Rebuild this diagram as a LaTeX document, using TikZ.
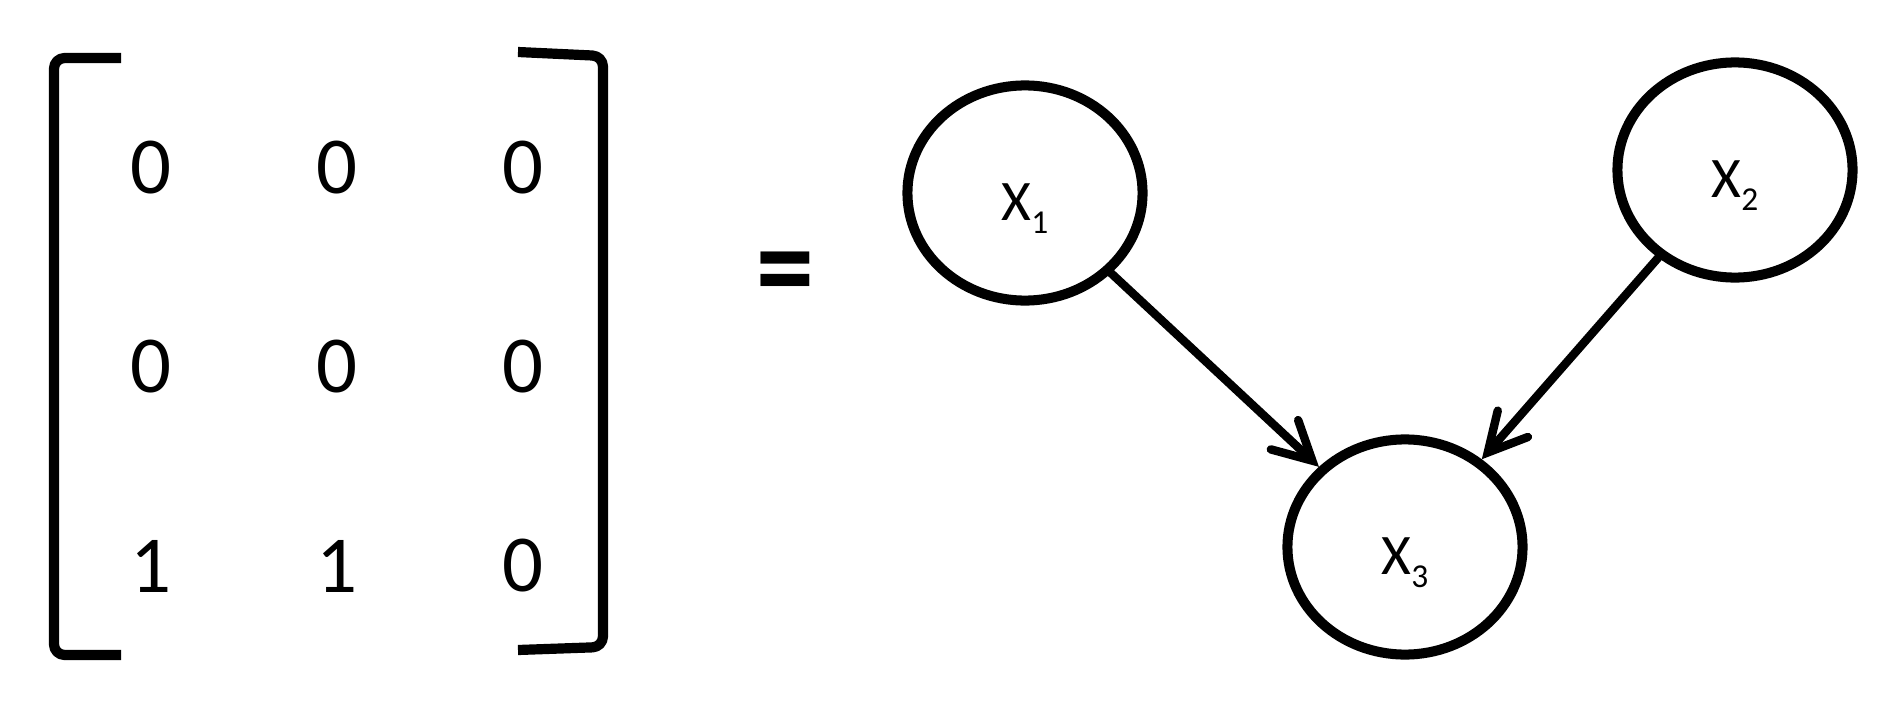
\documentclass[tikz,border=0pt]{standalone}
\usepackage{fontspec}
\setmainfont{Carlito}
\usetikzlibrary{shapes.geometric,arrows.meta}
\begin{document}
\begin{tikzpicture}[x=0.01cm,y=-0.01cm,
  entry/.style={font=\fontsize{23}{27}\selectfont, inner sep=0},
  var/.style={draw, ellipse, line width=2.85pt, minimum width=2.35cm,
    minimum height=2.15cm, inner sep=0, text height=0.54cm, text depth=0cm,
    font=\fontsize{16.3}{19}\selectfont},
  bracket/.style={line width=2.9pt, line cap=butt, line join=round, rounded corners=3pt},
  edge/.style={-{Straight Barb[length=3.8mm,width=4mm,line cap=round]},
    line width=2.4pt, line cap=round},
  eqsign/.style={font=\fontsize{33}{36}\selectfont\bfseries, inner sep=0}]
\newcommand{\sbs}[1]{\raisebox{-0.13cm}{\fontsize{9.5}{11}\selectfont #1}}
\useasboundingbox (0,0) rectangle (1890,703);

% brackets
\draw[bracket] (121,58) -- (54,58) -- (54,655) -- (121,655);
\draw[bracket] (518,52) -- (603,56) -- (603,647) -- (518,650);

% matrix entries
\node[entry] (m11) at (151,168) {0};
\node[entry] (m12) at (337,168) {0};
\node[entry] (m13) at (523,168) {0};
\node[entry] (m21) at (151,367) {0};
\node[entry] (m22) at (337,367) {0};
\node[entry] (m23) at (523,367) {0};
\node[entry] (m31) at (151,566) {1};
\node[entry] (m32) at (337,566) {1};
\node[entry] (m33) at (523,566) {0};

% equals
\node[eqsign] (eq) at (785,282) {\scalebox{1}[1.15]{=}};

% graph
\node[var] (x1) at (1025,193) {X\sbs{1}};
\node[var] (x2) at (1735,170) {X\sbs{2}};
\node[var] (x3) at (1405,547) {X\sbs{3}};

\draw[edge] (x1) -- (x3);
\draw[edge] (x2) -- (x3);
\end{tikzpicture}
\end{document}
